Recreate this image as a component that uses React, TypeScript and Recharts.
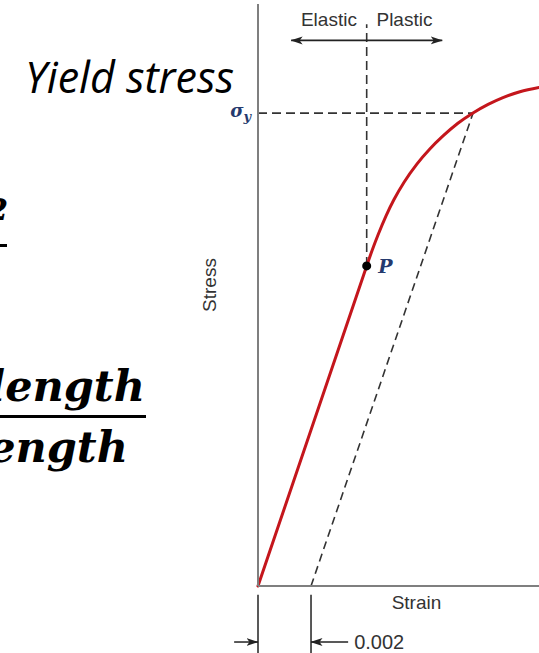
import React from 'react';
import { LineChart, Line, XAxis, YAxis, ReferenceLine, ReferenceDot, Label } from 'recharts';

// stress-strain curve
// elastic part is straight up to the proportional limit P
const ELASTIC_STRAIN = [0, 0.0041];
const ELASTIC_STRESS = [0, 220];
// plastic part from P to the right edge
const PLASTIC_STRAIN = [0.0041, 0.0043, 0.00453, 0.00483, 0.00513, 0.00551, 0.006, 0.00649, 0.00698, 0.00754, 0.00811, 0.00868, 0.00924, 0.00988, 0.0106];
const PLASTIC_STRESS = [220, 230.4, 241.4, 254.4, 265.6, 277.5, 290.1, 300.5, 309.3, 318, 325.1, 331, 335.7, 339.7, 342.6];

const X_MAX = 0.0106;
const Y_MAX = 400;
const OFFSET = 0.002;
const P_POINT = { strain: 0.0041, stress: 220 };
const YIELD = { strain: 0.00811, stress: 325 };
const LIMIT_TOP = 386;
const REGION = { y: 375, left: 0.00125, right: 0.00695 };
const DIM = { top: -6, bottom: -60, arrowY: -38.5, leftFrom: -0.0009, rightFrom: 0.0034 };

const RED = '#c4161c';
const AXIS = '#7f7f7f';
const DASH = '#333';
const INK = '#222';
const TEXT = '#333';
const NAVY = '#253a6e';
const SANS = '"Liberation Sans", Arial, sans-serif';
const SERIF = '"DejaVu Serif", serif';

const elasticData = ELASTIC_STRAIN.map((s, i) => ({ strain: s, stress: ELASTIC_STRESS[i] }));
const plasticData = PLASTIC_STRAIN.map((s, i) => ({ strain: s, stress: PLASTIC_STRESS[i] }));

function SigmaTick({ x, y }: any) {
  return (
    <text x={x} y={y} dy={4} textAnchor="end" fill={NAVY} fontFamily={SERIF} fontStyle="italic" fontWeight="bold" fontSize={18}>
      σ<tspan fontSize={13} dy={4}>y</tspan>
    </text>
  );
}

const labelStyle = { fill: TEXT, fontSize: 19, fontFamily: SANS };

export default function App() {
  return (
    <div style={{ position: 'absolute', left: 0, top: 0, width: 539, height: 653, overflow: 'hidden', background: '#fff' }}>
      <svg width={0} height={0} style={{ position: 'absolute' }}>
        <defs>
          <marker id="arrow" viewBox="0 0 12 10" refX="11.5" refY="5" markerWidth="12" markerHeight="10" markerUnits="userSpaceOnUse" orient="auto">
            <path d="M0,1 L12,5 L0,9 L3,5 Z" fill={INK} />
          </marker>
        </defs>
      </svg>
      <LineChart width={539} height={653} margin={{ top: 4, right: 0, bottom: 37, left: 160 }}>
        <XAxis
          type="number"
          dataKey="strain"
          domain={[0, X_MAX]}
          ticks={[]}
          tick={false}
          tickLine={false}
          height={30}
          axisLine={{ stroke: AXIS, strokeWidth: 2 }}
        >
          <Label value="Strain" position="insideTop" offset={10} dx={18} {...labelStyle} />
        </XAxis>
        <YAxis
          type="number"
          domain={[0, Y_MAX]}
          ticks={[YIELD.stress]}
          tick={<SigmaTick />}
          tickLine={false}
          tickSize={0}
          tickMargin={7}
          width={98}
          axisLine={{ stroke: AXIS, strokeWidth: 2 }}
        >
          <Label value="Stress" angle={-90} position="center" dy={-10} {...labelStyle} />
        </YAxis>

        {/* yield stress, proportional limit, 0.002 offset */}
        <ReferenceLine
          segment={[{ x: 0, y: YIELD.stress }, { x: YIELD.strain, y: YIELD.stress }]}
          stroke={DASH}
          strokeWidth={1.6}
          strokeDasharray="9 5"
        />
        <ReferenceLine
          segment={[{ x: P_POINT.strain, y: P_POINT.stress }, { x: P_POINT.strain, y: LIMIT_TOP }]}
          stroke={DASH}
          strokeWidth={1.6}
          strokeDasharray="9 5"
        />
        <ReferenceLine
          segment={[{ x: OFFSET, y: 0 }, { x: YIELD.strain, y: YIELD.stress }]}
          stroke={DASH}
          strokeWidth={1.6}
          strokeDasharray="8 5"
        />

        {/* elastic / plastic arrow */}
        <ReferenceLine
          segment={[{ x: P_POINT.strain, y: REGION.y }, { x: REGION.left, y: REGION.y }]}
          stroke={INK}
          strokeWidth={1.6}
          markerEnd="url(#arrow)"
          label={{ value: 'Elastic', position: 'top', offset: 14, ...labelStyle }}
        />
        <ReferenceLine
          segment={[{ x: P_POINT.strain, y: REGION.y }, { x: REGION.right, y: REGION.y }]}
          stroke={INK}
          strokeWidth={1.6}
          markerEnd="url(#arrow)"
          label={{ value: 'Plastic', position: 'top', offset: 14, ...labelStyle }}
        />

        {/* 0.002 dimension under the axis */}
        <ReferenceLine
          segment={[{ x: 0, y: DIM.top }, { x: 0, y: DIM.bottom }]}
          ifOverflow="visible"
          stroke={INK}
          strokeWidth={1.5}
        />
        <ReferenceLine
          segment={[{ x: OFFSET, y: DIM.top }, { x: OFFSET, y: DIM.bottom }]}
          ifOverflow="visible"
          stroke={INK}
          strokeWidth={1.5}
        />
        <ReferenceLine
          segment={[{ x: DIM.leftFrom, y: DIM.arrowY }, { x: 0, y: DIM.arrowY }]}
          ifOverflow="visible"
          stroke={INK}
          strokeWidth={1.5}
          markerEnd="url(#arrow)"
        />
        <ReferenceLine
          segment={[{ x: DIM.rightFrom, y: DIM.arrowY }, { x: OFFSET, y: DIM.arrowY }]}
          ifOverflow="visible"
          stroke={INK}
          strokeWidth={1.5}
          markerEnd="url(#arrow)"
          label={{ value: '0.002', position: 'right', offset: 6, ...labelStyle, fontSize: 20 }}
        />

        <Line
          data={elasticData}
          type="linear"
          dataKey="stress"
          stroke={RED}
          strokeWidth={3}
          strokeLinecap="round"
          dot={false}
          activeDot={false}
          isAnimationActive={false}
        />
        <Line
          data={plasticData}
          type="monotone"
          dataKey="stress"
          stroke={RED}
          strokeWidth={3}
          strokeLinecap="round"
          dot={false}
          activeDot={false}
          isAnimationActive={false}
        />

        <ReferenceDot
          x={P_POINT.strain}
          y={P_POINT.stress}
          r={4.5}
          fill="#000"
          stroke="none"
          label={{ value: 'P', position: 'right', offset: 7, fill: NAVY, fontSize: 19, fontFamily: SERIF, fontStyle: 'italic', fontWeight: 'bold' }}
        />
      </LineChart>

      {/* slide text around the figure */}
      <svg width={539} height={653} style={{ position: 'absolute', left: 0, top: 0, pointerEvents: 'none' }}>
        <text x={25} y={93} fontFamily='"Open Sans", sans-serif' fontStyle="italic" fontSize={43} fill="#000">
          Yield stress
        </text>
        <text x={8} y={220} textAnchor="end" fontFamily={SERIF} fontWeight="bold" fontStyle="italic" fontSize={30} fill="#000">
          2
        </text>
        <rect x={0} y={244} width={7} height={3} fill="#000" />
        <text x={145} y={401} textAnchor="end" fontFamily={SERIF} fontWeight="bold" fontStyle="italic" fontSize={43} fill="#000">
          Change in length
        </text>
        <rect x={0} y={415} width={146} height={3} fill="#000" />
        <text x={128} y={462} textAnchor="end" fontFamily={SERIF} fontWeight="bold" fontStyle="italic" fontSize={43} fill="#000">
          Original length
        </text>
      </svg>
    </div>
  );
}
